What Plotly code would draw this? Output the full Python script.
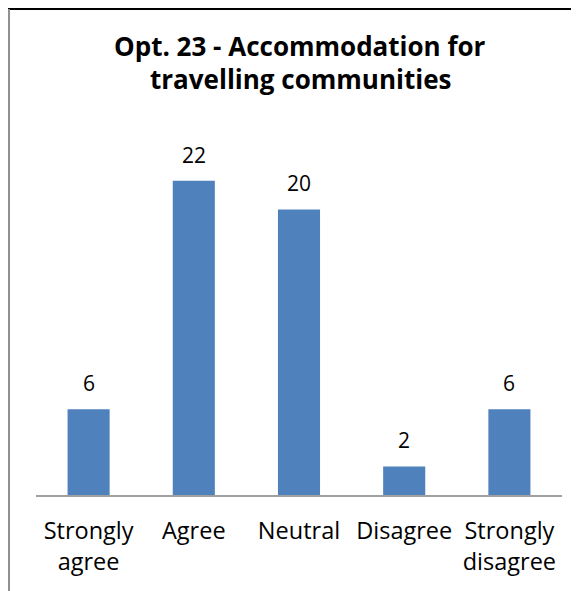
import plotly.graph_objects as go

categories = ["Strongly<br>agree", "Agree", "Neutral", "Disagree", "Strongly<br>disagree"]
counts = [6, 22, 20, 2, 6]
title_lines = ["Opt. 23 - Accommodation for", "travelling communities"]

FONT = "Open Sans"

fig = go.Figure()
fig.add_trace(go.Bar(x=categories, y=counts, width=0.4,
                     marker=dict(color="#4F81BD", line=dict(width=0))))

# data labels above bars
for c, v in zip(categories, counts):
    fig.add_annotation(x=c, y=v, text=str(v), showarrow=False,
                       yanchor="bottom", yshift=10,
                       font=dict(family=FONT, size=21, color="#000000"))

# two-line title, placed by hand to get the wider line spacing
for txt, yy in zip(title_lines, [1.2577, 1.165]):
    fig.add_annotation(xref="paper", yref="paper", x=0.502, y=yy,
                       text="<b>" + txt + "</b>", showarrow=False,
                       xanchor="center", yanchor="middle",
                       font=dict(family=FONT, size=26, color="#000000"))

fig.update_layout(
    width=571, height=583,
    margin=dict(l=28, r=17, t=130, b=96, autoexpand=False),
    paper_bgcolor="white", plot_bgcolor="white",
    showlegend=False,
)
fig.update_xaxes(showline=True, linecolor="#A0A0A0", linewidth=1.5,
                 ticks="outside", ticklen=14, tickcolor="rgba(0,0,0,0)",
                 tickfont=dict(family=FONT, size=23.5, color="#000000"),
                 showgrid=False)
fig.update_yaxes(range=[0, 25], visible=False)

# chart border (top black, left gray)
fig.add_shape(type="line", xref="paper", yref="paper",
              x0=-0.06, x1=1.04, y0=486 / 357, y1=486 / 357,
              line=dict(color="#000000", width=2))
fig.add_shape(type="line", xref="paper", yref="paper",
              x0=-27 / 526, x1=-27 / 526, y0=486 / 357, y1=-96 / 357,
              line=dict(color="#909090", width=2))

fig.write_html("out.html")
